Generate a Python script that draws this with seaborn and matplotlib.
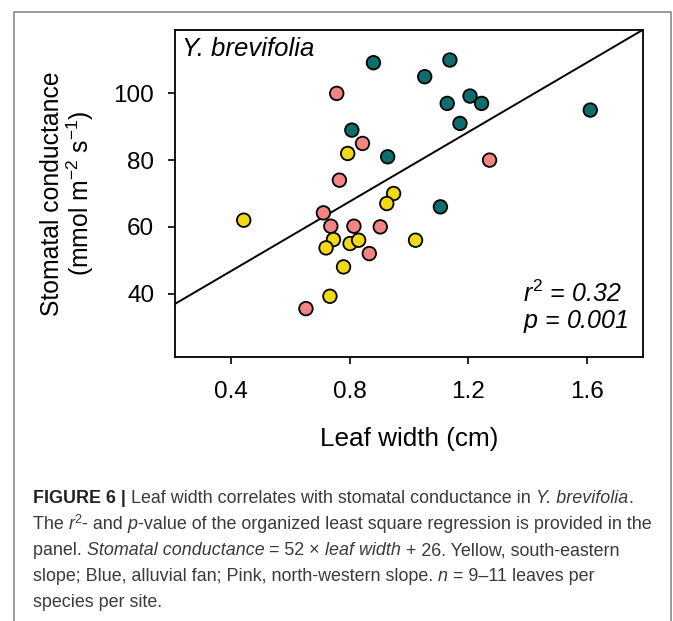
import numpy as np
import pandas as pd
import seaborn as sns
import matplotlib.pyplot as plt
from matplotlib.patches import Rectangle

# leaf width (cm) and stomatal conductance (mmol m-2 s-1)
teal_x = [0.880, 1.138, 1.053, 1.129, 1.206, 1.245, 1.172, 1.612, 0.807, 0.928, 1.106]
teal_y = [109.2, 110.0, 105.0, 97.0, 99.2, 97.0, 91.0, 95.0, 89.0, 81.0, 66.0]
pink_x = [0.756, 0.843, 0.765, 0.711, 0.736, 0.814, 0.903, 0.866, 0.652, 1.272]
pink_y = [100.0, 85.0, 74.0, 64.2, 60.2, 60.2, 60.0, 52.0, 35.5, 80.0]
yellow_x = [0.793, 0.442, 0.948, 0.925, 0.745, 0.720, 0.801, 0.830, 1.022, 0.779, 0.733]
yellow_y = [82.0, 62.0, 70.0, 67.0, 56.2, 53.7, 55.0, 56.0, 56.0, 48.0, 39.2]

slope, intercept = 52, 26
x_ticks = [0.4, 0.8, 1.2, 1.6]
y_ticks = [40, 60, 80, 100]
site_colors = {"Blue": "#0e6e6e", "Pink": "#f28484", "Yellow": "#f3d816"}

df = pd.DataFrame({
    "width": teal_x + pink_x + yellow_x,
    "gs": teal_y + pink_y + yellow_y,
    "site": ["Blue"] * len(teal_x) + ["Pink"] * len(pink_x) + ["Yellow"] * len(yellow_x),
})

sns.set_style("ticks")
plt.rcParams["font.family"] = ["Liberation Sans", "DejaVu Sans"]
plt.rcParams["mathtext.fontset"] = "custom"
plt.rcParams["mathtext.rm"] = "Liberation Sans"
plt.rcParams["mathtext.it"] = "Liberation Sans:italic"
plt.rcParams["text.color"] = "black"
plt.rcParams["axes.labelcolor"] = "black"

W, H = 673, 621
fig = plt.figure(figsize=(W / 100, H / 100), dpi=100)
ax = fig.add_axes([175 / W, 1 - 357 / H, 468 / W, 327 / H])

sns.scatterplot(data=df, x="width", y="gs", hue="site", palette=site_colors,
                s=95, edgecolor="black", linewidth=1.3, legend=False, ax=ax, zorder=3)
ax.axline((0, intercept), slope=slope, color="black", lw=1.4, zorder=2)

ax.set_xlim(0.21, 1.79)
ax.set_ylim(21, 119)
ax.set_xticks(x_ticks)
ax.set_xticklabels([f"{v:.1f}" for v in x_ticks])
ax.set_yticks(y_ticks)
ax.tick_params(direction="out", length=5, width=1.2, labelsize=17.5, pad=10, colors="black")
ax.tick_params(axis="x", pad=12)
for s in ax.spines.values():
    s.set_linewidth(1.3)
    s.set_color("black")

ax.set_xlabel("Leaf width (cm)", fontsize=18.8)
ax.set_ylabel("Stomatal conductance\n(mmol m$^{-2}$ s$^{-1}$)", fontsize=17.8, linespacing=1.05)
ax.xaxis.set_label_coords(0.5, -0.215)
ax.yaxis.set_label_coords(-0.168, 0.5)

ax.text(0.016, 0.978, "Y. brevifolia", transform=ax.transAxes, fontsize=18.5,
        style="italic", ha="left", va="top")
ax.text(0.744, 0.168, "$r^2$ = 0.32", transform=ax.transAxes, fontsize=18,
        style="italic", ha="left", va="baseline")
ax.text(0.744, 0.089, "$p$ = 0.001", transform=ax.transAxes, fontsize=18,
        style="italic", ha="left", va="baseline")

# outer frame of the figure panel
fig.patches.append(Rectangle((14 / W, -0.05), (671 - 14) / W, 1 - 12 / H + 0.05,
                             transform=fig.transFigure, fill=False,
                             edgecolor="#8a8a8a", lw=1.2))

# caption, drawn run by run so styles can be mixed on one line
renderer = fig.canvas.get_renderer()
cap_size = 12.9
cap_color = "#3a3a3a"


def put_line(y_px, runs):
    x = 33 / W
    y = 1 - y_px / H
    for text, kind in runs:
        kw = dict(fontsize=cap_size, color=cap_color, va="baseline", ha="left")
        yy = y
        if kind == "b":
            kw.update(weight="bold", color="#222222")
        elif kind == "i":
            kw.update(style="italic")
        elif kind == "sup":
            kw.update(fontsize=cap_size * 0.7)
            yy = y + 6 / H
        t = fig.text(x, yy, text, **kw)
        x += t.get_window_extent(renderer).width / W


put_line(503, [("FIGURE 6 | ", "b"),
               ("Leaf width correlates with stomatal conductance in ", ""),
               ("Y. brevifolia", "i"), (".", "")])
put_line(529, [("The ", ""), ("r", "i"), ("2", "sup"), ("- and ", ""), ("p", "i"),
               ("-value of the organized least square regression is provided in the", "")])
put_line(555, [("panel. ", ""), ("Stomatal conductance", "i"), (" = 52 \u00d7 ", ""),
               ("leaf width", "i"), (" + 26. Yellow, south-eastern", "")])
put_line(581, [("slope; Blue, alluvial fan; Pink, north-western slope. ", ""),
               ("n", "i"), (" = 9\u201311 leaves per", "")])
put_line(607, [("species per site.", "")])

fig.savefig("out.png", dpi=100)
